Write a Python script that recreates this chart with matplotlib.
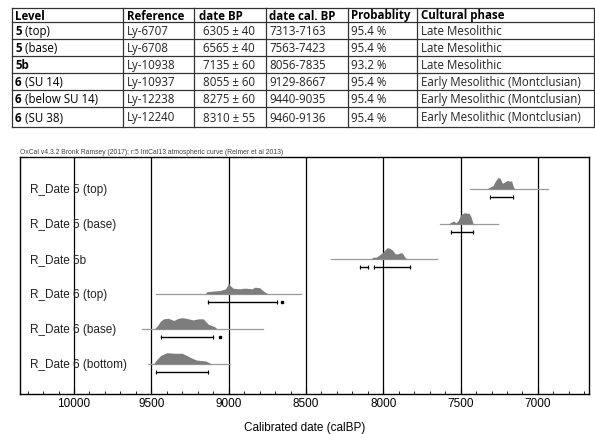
import numpy as np
import matplotlib
matplotlib.use("Agg")
import matplotlib.pyplot as plt
import matplotlib.transforms as mtransforms

# ---- table data ----
table_header = ["Level", "Reference", "date BP", "date cal. BP", "Probablity", "Cultural phase"]
level_bold = ["5", "5", "5b", "6", "6", "6"]
level_rest = [" (top)", " (base)", "", " (SU 14)", " (below SU 14)", " (SU 38)"]
references = ["Ly-6707", "Ly-6708", "Ly-10938", "Ly-10937", "Ly-12238", "Ly-12240"]
dates_bp = ["6305 \u00b1 40", "6565 \u00b1 40", "7135 \u00b1 60", "8055 \u00b1 60", "8275 \u00b1 60", "8310 \u00b1 55"]
dates_cal = ["7313-7163", "7563-7423", "8056-7835", "9129-8667", "9440-9035", "9460-9136"]
probabilities = ["95.4 %", "95.4 %", "93.2 %", "95.4 %", "95.4 %", "95.4 %"]
phases = ["Late Mesolithic", "Late Mesolithic", "Late Mesolithic",
          "Early Mesolithic (Montclusian)", "Early Mesolithic (Montclusian)",
          "Early Mesolithic (Montclusian)"]

# ---- oxcal plot data (cal BP) ----
row_labels = ["R_Date 5 (top)", "R_Date 5 (base)", "R_Date 5b",
              "R_Date 6 (top)", "R_Date 6 (base)", "R_Date 6 (bottom)"]
base_from = [7442, 7636, 8338, 9471, 9560, 9520]
base_to = [6935, 7260, 7655, 8535, 8775, 8990]

dist_x = [
    [7330, 7310, 7290, 7275, 7260, 7245, 7230, 7215, 7200, 7185, 7170, 7160, 7150],
    [7580, 7560, 7545, 7530, 7515, 7500, 7490, 7475, 7460, 7445, 7432, 7420, 7410],
    [8080, 8065, 8045, 8030, 8010, 7990, 7975, 7960, 7942, 7922, 7905, 7890, 7876, 7858, 7845],
    [9150, 9140, 9100, 9055, 9020, 9005, 9000, 8995, 8970, 8925, 8905, 8880, 8850, 8830, 8800, 8770, 8745],
    [9480, 9460, 9440, 9420, 9390, 9355, 9325, 9300, 9275, 9230, 9195, 9165, 9130, 9090, 9075],
    [9485, 9470, 9440, 9400, 9350, 9300, 9250, 9210, 9180, 9145, 9125, 9110],
]
dist_y = [
    [0, 0.15, 0.3, 0.7, 1.0, 0.95, 0.5, 0.6, 0.75, 0.7, 0.7, 0.2, 0],
    [0, 0.15, 0.25, 0.1, 0.3, 0.8, 0.9, 1.0, 0.95, 0.95, 0.6, 0.05, 0],
    [0, 0.15, 0.15, 0.3, 0.5, 0.8, 1.0, 0.95, 0.8, 0.45, 0.45, 0.55, 0.5, 0.1, 0],
    [0, 0.2, 0.25, 0.3, 0.45, 0.8, 1.0, 0.8, 0.5, 0.45, 0.5, 0.5, 0.45, 0.6, 0.55, 0.2, 0],
    [0, 0.3, 0.7, 0.9, 0.95, 0.75, 0.95, 1.0, 0.95, 0.8, 0.9, 0.9, 0.4, 0.2, 0],
    [0, 0.3, 0.75, 1.0, 0.95, 0.95, 0.6, 0.35, 0.3, 0.25, 0.1, 0],
]
range_from = [[7313], [7563], [8150, 8060], [9136], [9440], [9468]]
range_to = [[7163], [7423], [8100, 7830], [8690], [9100], [9136]]
extra_dot = [None, None, None, 8658, 9054, None]

fig = plt.figure(figsize=(5.95, 4.35), dpi=100)

# ---- table drawn in pixel coordinates ----
tab = fig.add_axes([0, 0, 1, 1])
tab.set_xlim(0, 595)
tab.set_ylim(435, 0)
tab.axis("off")

row_lines = [9, 23, 40, 57, 74, 91, 108, 128]
col_lines = [12, 123, 194, 266, 348, 417, 594]
col_text_x = [15, 127, 203, 269, 351, 421]
tfont = "Open Sans"
tsize = 8.3

for y in row_lines:
    tab.plot([col_lines[0], col_lines[-1]], [y, y], color="#333333", lw=0.9)
for x in col_lines:
    tab.plot([x, x], [row_lines[0], row_lines[-1]], color="#333333", lw=0.9)

hy = (row_lines[0] + row_lines[1]) / 2
for i, h in enumerate(table_header):
    tab.text(col_text_x[i] - (4 if i == 2 else 0), hy, h, fontsize=tsize, fontweight="bold",
             family=tfont, va="center", ha="left")

columns = [references, dates_bp, dates_cal, probabilities, phases]
for r in range(6):
    cy = (row_lines[r + 1] + row_lines[r + 2]) / 2
    t = tab.text(col_text_x[0], cy, level_bold[r], fontsize=tsize, fontweight="bold",
                 family=tfont, va="center", ha="left")
    if level_rest[r]:
        tab.annotate(level_rest[r], xy=(1, 0.5), xycoords=t, fontsize=tsize,
                     family=tfont, va="center", ha="left")
    for c, col in enumerate(columns):
        tab.text(col_text_x[c + 1], cy, col[r], fontsize=tsize, family=tfont,
                 va="center", ha="left", color="#222222")

# ---- calibration plot ----
ax = fig.add_axes([20 / 595, 40 / 435, 569 / 595, 237 / 435])
ax.set_xlim(10349, 6670)
ax.set_ylim(5.86, -0.91)
ax.set_yticks([])
ax.set_xticks([10000, 9500, 9000, 8500, 8000, 7500, 7000])
ax.set_xticks(np.arange(6700, 10400, 100), minor=True)
ax.tick_params(axis="x", which="both", direction="in", top=False, labelsize=8.5, pad=2)
ax.tick_params(axis="x", which="major", length=4)
ax.tick_params(axis="x", which="minor", length=2.5)
for lab in ax.get_xticklabels():
    lab.set_family("Liberation Sans")
for s in ax.spines.values():
    s.set_linewidth(1.0)
ax.grid(axis="x", which="major", color="black", lw=0.9)
ax.set_axisbelow(True)
ax.set_xlabel("Calibrated date (calBP)", fontsize=8.5, family="Liberation Sans", labelpad=9)

scale = 0.32
label_tr = mtransforms.blended_transform_factory(ax.transAxes, ax.transData)
for i in range(6):
    ax.plot([base_from[i], base_to[i]], [i, i], color="#9a9a9a", lw=0.9, zorder=3)
    ax.fill_between(dist_x[i], i, i - np.array(dist_y[i]) * scale,
                    color="#7d7d7d", lw=0, zorder=4)
    for a, b in zip(range_from[i], range_to[i]):
        ax.plot([a, b], [i + 0.24, i + 0.24], color="black", lw=1.0, zorder=4,
                marker="|", markersize=3, markeredgewidth=0.8)
    if extra_dot[i] is not None:
        ax.plot([extra_dot[i]], [i + 0.24], marker="s", markersize=1.8,
                color="black", zorder=4)
    ax.text(0.018, i, row_labels[i], transform=label_tr, fontsize=8.5,
            family="Liberation Sans", va="center", ha="left", color="#222222", zorder=5)

ax.text(0.0, 1.008, "OxCal v4.3.2 Bronk Ramsey (2017); r:5 IntCal13 atmospheric curve (Reimer et al 2013)",
        transform=ax.transAxes, fontsize=4.9, family="Liberation Sans", color="#444444",
        va="bottom", ha="left")

fig.savefig("out.png", dpi=100)
